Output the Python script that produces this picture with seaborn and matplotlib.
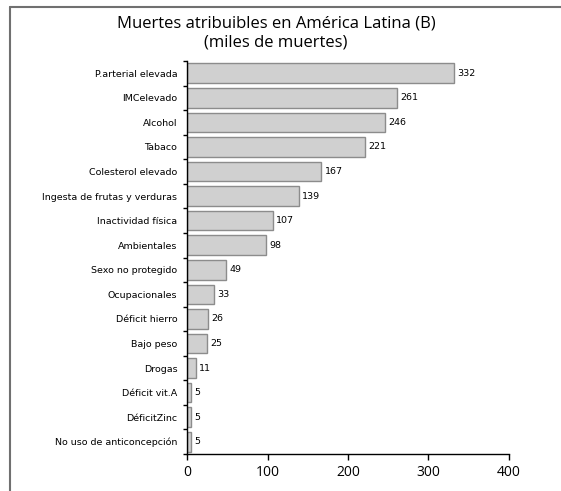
import matplotlib
matplotlib.use("Agg")
import matplotlib.pyplot as plt
import seaborn as sns
import pandas as pd
import numpy as np
from matplotlib.lines import Line2D

categories = ["P.arterial elevada", "IMCelevado", "Alcohol", "Tabaco", "Colesterol elevado",
              "Ingesta de frutas y verduras", "Inactividad física", "Ambientales",
              "Sexo no protegido", "Ocupacionales", "Déficit hierro", "Bajo peso", "Drogas",
              "Déficit vit.A", "DéficitZinc", "No uso de anticoncepción"]
values = [332, 261, 246, 221, 167, 139, 107, 98, 49, 33, 26, 25, 11, 5, 5, 5]
xticks = [0, 100, 200, 300, 400]
title = "Muertes atribuibles en América Latina (B)\n(miles de muertes)"

sns.set_theme(style="white")
plt.rcParams['font.family'] = ['DejaVu Sans']
plt.rcParams['text.color'] = 'black'
plt.rcParams['xtick.color'] = 'black'
plt.rcParams['ytick.color'] = 'black'
plt.rcParams['axes.labelcolor'] = 'black'

df = pd.DataFrame({"cat": categories, "val": values})

fig = plt.figure(figsize=(5.61, 4.91), dpi=100)
ax = fig.add_axes([187/561, 1-454/491, (509-187)/561, (454-61)/491])

sns.barplot(data=df, y="cat", x="val", orient="h", color="#d0d0d0",
            edgecolor="#8c8c8c", linewidth=1.0, width=0.8, saturation=1, ax=ax)

ax.set_xlim(0, 400)
ax.set_ylim(len(categories) - 0.5, -0.5)
ax.set_xticks(xticks)
ax.set_xticklabels([str(t) for t in xticks], fontsize=10, family="Open Sans", color="black")
ax.set_xlabel("")
ax.set_ylabel("")
ax.set_yticks(range(len(categories)))
ax.set_yticklabels(categories, fontsize=6.8, color="black")
ax.set_yticks(np.arange(-0.5, len(categories), 1), minor=True)
ax.tick_params(axis="y", which="major", length=0, pad=7)
ax.tick_params(axis="y", which="minor", length=3, direction="out", color="black", width=1, left=True)
ax.tick_params(axis="x", which="major", length=4, direction="out", color="black", width=1, bottom=True, pad=4)

for s in ["top", "right"]:
    ax.spines[s].set_visible(False)
for s in ["left", "bottom"]:
    ax.spines[s].set_visible(True)
    ax.spines[s].set_color("black")
    ax.spines[s].set_linewidth(1.0)
ax.set_facecolor("white")
ax.grid(False)

for i, v in enumerate(values):
    ax.text(v + 4, i, str(v), va="center", ha="left", fontsize=6.8, color="black")

fig.text(276/561, 1-33/491, title, ha="center", va="center", fontsize=12,
         family="Open Sans", linespacing=1.3, color="black")

# outer frame (cut off at right and bottom)
fig.add_artist(Line2D([10/561, 1.0], [1-7/491, 1-7/491], transform=fig.transFigure,
                      color="#707070", linewidth=1.5))
fig.add_artist(Line2D([10/561, 10/561], [0.0, 1-7/491], transform=fig.transFigure,
                      color="#707070", linewidth=1.5))

fig.savefig("out.png", dpi=100, facecolor="white")
